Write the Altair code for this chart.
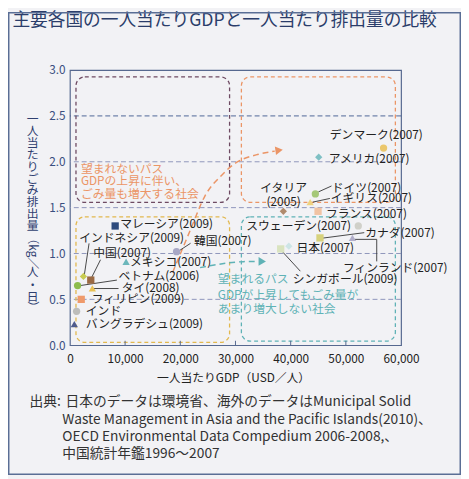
import altair as alt
import pandas as pd

# ---------------- data ----------------
countries = ["マレーシア", "インドネシア", "中国", "ベトナム", "タイ", "フィリピン", "インド",
             "バングラデシュ", "メキシコ", "韓国", "デンマーク", "アメリカ", "ドイツ", "イギリス",
             "イタリア", "フランス", "スウェーデン", "カナダ", "フィンランド", "日本", "シンガポール"]
gdp = [8200, 2450, 3780, 1390, 4060, 2050, 1210, 800, 10180, 19320, 56830, 45080, 44470,
       43530, 38670, 44960, 52250, 45310, 51190, 39670, 38190]
waste = [1.30, 0.75, 0.71, 0.65, 0.62, 0.50, 0.37, 0.23, 0.91, 1.02, 2.15, 2.05, 1.65,
         1.56, 1.46, 1.46, 1.30, 1.17, 1.17, 1.08, 1.05]
shapes = ["square", "diamond", "square", "circle", "triangle-up", "square", "circle",
          "triangle-up", "triangle-up", "circle", "circle", "diamond", "circle", "triangle-up",
          "diamond", "square", "circle", "square", "triangle-up", "diamond", "square"]
colors = ["#2d4a7c", "#c8cb52", "#9b6a44", "#8dbd4e", "#e9c154", "#ef9a6b", "#bdbdbb",
          "#4f5b8c", "#6cb7bb", "#a8a8c6", "#ebc76c", "#7fc0c4", "#a5c878", "#efd27f",
          "#b08a6c", "#f1c3a3", "#d0d0c9", "#d7d27c", "#b1adc9", "#cde5e6", "#d9e3bf"]

labels = ["マレーシア(2009)", "インドネシア(2009)", "中国(2007)", "ベトナム(2006)", "タイ(2008)",
          "フィリピン(2009)", "インド", "バングラデシュ(2009)", "メキシコ(2007)", "韓国(2007)",
          "デンマーク(2007)", "アメリカ(2007)", "ドイツ(2007)", "イギリス(2007)",
          "フランス(2007)", "スウェーデン(2007)", "カナダ(2007)", "フィンランド(2007)",
          "日本(2007)", "シンガポール(2009)"]
label_gdp = [9115, 1690, 4237, 8813, 9400, 3953, 2884, 2884, 10896, 22469, 47092, 46914,
             47448, 47270, 46380, 31958, 53501, 49460, 41040, 40380]
label_waste = [1.318, 1.165, 1.010, 0.753, 0.618, 0.504, 0.367, 0.225, 0.903, 1.136, 2.296,
               2.028, 1.718, 1.604, 1.430, 1.296, 1.218, 0.843, 1.064, 0.725]
italy_lines = ["イタリア", "(2005)"]
italy_gdp = [38724, 38724]
italy_waste = [1.718, 1.557]

x_ticks = [0, 10000, 20000, 30000, 40000, 50000, 60000]
y_ticks = [0.0, 0.5, 1.0, 1.5, 2.0, 2.5, 3.0]

title_text = "主要各国の一人当たりGDPと一人当たり排出量の比較"
y_title_top = "一人当たりごみ排出量"
y_title_unit = ["（kg／", "人", "・", "日", "）"]
x_title = "一人当たりGDP（USD／人）"
source_head = "出典:"
source_lines = ["日本のデータは環境省、海外のデータはMunicipal Solid",
                "Waste Management in Asia and the Pacific Islands(2010)、",
                "OECD Environmental Data Compedium 2006-2008,、",
                "中国統計年鑑1996～2007"]
bad_path_text = ["望まれないパス", "GDPの上昇に伴い、", "ごみ量も増大する社会"]
good_path_text = ["望まれるパス", "GDPが上昇してもごみ量が", "あまり増大しない社会"]

FONT = "Noto Sans CJK JP"
W, H = 337, 280
FRAME = "#56688f"
ORANGE = "#eb9566"
TEAL = "#5fb2b6"

ax_x = alt.Axis(values=x_ticks, format=",.0f", labelFontSize=12, labelColor="#222222",
                ticks=False, domain=False, grid=False, title=None, labelPadding=9,
                labelFlush=False)
ax_y = alt.Axis(values=y_ticks, format=".1f", labelFontSize=12, labelColor="#3a4f80",
                ticks=False, domain=False, grid=False, title=None, labelPadding=5)
xs = alt.Scale(domain=[0, 60000], nice=False, zero=False)
ys = alt.Scale(domain=[0, 3], nice=False, zero=False)


def X(f):
    return alt.X(f, type="quantitative", scale=xs, axis=ax_x)


def Y(f):
    return alt.Y(f, type="quantitative", scale=ys, axis=ax_y)


# grid lines
grid_df = pd.DataFrame({"waste": [0.5, 1.0, 1.5, 2.0, 2.5],
                        "c": ["#8e95bb", "#8e95bb", "#8e95bb", "#8e95bb", "#4d6496"]})
grid = alt.Chart(grid_df).mark_rule(strokeDash=[5, 3], strokeWidth=1).encode(
    y=Y("waste"), stroke=alt.Stroke("c:N", scale=None))

# inward x ticks
tick_df = pd.DataFrame({"gdp": x_ticks[1:-1]})
ticks = alt.Chart(tick_df).mark_rule(color=FRAME, strokeWidth=1).encode(
    x=X("gdp"), y=alt.value(H), y2=alt.value(H - 4.5))

# dashed rounded boxes
box_df = pd.DataFrame({
    "gdp": [1100, 31070, 1100, 31070],
    "gdp2": [28930, 58970, 28930, 58970],
    "waste": [2.925, 2.925, 1.40, 1.40],
    "waste2": [1.557, 1.557, 0.03, 0.045],
    "c": ["#6e4a62", ORANGE, "#e2b84e", TEAL]})
boxes = alt.Chart(box_df).mark_rect(cornerRadius=9, fillOpacity=0, strokeDash=[4, 3],
                                    strokeWidth=1.3).encode(
    x=X("gdp"), x2="gdp2", y=Y("waste"), y2="waste2", stroke=alt.Stroke("c:N", scale=None))

# arrows
arrow_df = pd.DataFrame({
    "gdp": [18605, 21810, 24480, 27510, 30180, 33740, 37120,
            23590, 26620, 31430, 34100],
    "waste": [0.793, 1.254, 1.629, 1.854, 1.993, 2.075, 2.116,
              0.846, 0.879, 0.911, 0.914],
    "g": ["o"] * 7 + ["t"] * 4,
    "c": [ORANGE] * 7 + [TEAL] * 4})
arrows = alt.Chart(arrow_df).mark_line(interpolate="monotone", strokeDash=[6, 4],
                                       strokeWidth=1.5).encode(
    x=X("gdp"), y=Y("waste"), detail="g:N", stroke=alt.Stroke("c:N", scale=None))
head_o = alt.Chart(pd.DataFrame({"gdp": [37900], "waste": [2.125]})).mark_point(
    shape="triangle-right", filled=True, size=75, opacity=1, color=ORANGE, angle=352).encode(
    x=X("gdp"), y=Y("waste"))
head_t = alt.Chart(pd.DataFrame({"gdp": [34850], "waste": [0.914]})).mark_point(
    shape="triangle-right", filled=True, size=75, opacity=1, color=TEAL).encode(
    x=X("gdp"), y=Y("waste"))

# path annotation texts
bad_df = pd.DataFrame({"t": bad_path_text, "gdp": [1990] * 3, "waste": [1.925, 1.793, 1.643]})
bad_txt = alt.Chart(bad_df).mark_text(align="left", baseline="middle", fontSize=12,
                                      color=ORANGE).encode(x=X("gdp"), y=Y("waste"), text="t:N")
good_df = pd.DataFrame({"t": good_path_text, "gdp": [26800] * 3, "waste": [0.718, 0.552, 0.391]})
good_txt = alt.Chart(good_df).mark_text(align="left", baseline="middle", fontSize=12,
                                        color=TEAL).encode(x=X("gdp"), y=Y("waste"), text="t:N")

# leader lines
lead_df = pd.DataFrame({
    "gdp": [45010, 44000, 45850, 51540, 55590, 38490, 2580, 3770, 1390, 4360, 19500],
    "gdp2": [47395, 47100, 53330, 55590, 55590, 41750, 3470, 5550, 8510, 8810, 21860],
    "waste": [1.671, 1.56, 1.168, 1.154, 1.154, 1.021, 0.753, 0.718, 0.646, 0.618, 1.018],
    "waste2": [1.736, 1.60, 1.227, 1.154, 0.914, 0.807, 1.11, 0.932, 0.71, 0.618, 1.111]})
leads = alt.Chart(lead_df).mark_rule(color="#333333", strokeWidth=0.9).encode(
    x=X("gdp"), x2="gdp2", y=Y("waste"), y2="waste2")

# points
pt_df = pd.DataFrame({"country": countries, "gdp": gdp, "waste": waste,
                      "shape": shapes, "color": colors})
points = alt.Chart(pt_df).mark_point(filled=True, size=55, opacity=1).encode(
    x=X("gdp"), y=Y("waste"),
    shape=alt.Shape("shape:N", scale=None),
    color=alt.Color("color:N", scale=None))

# country labels
lab_df = pd.DataFrame({"t": labels, "gdp": label_gdp, "waste": label_waste})
lab = alt.Chart(lab_df).mark_text(align="left", baseline="middle", fontSize=12,
                                  color="#222222").encode(x=X("gdp"), y=Y("waste"), text="t:N")
ita_df = pd.DataFrame({"t": italy_lines, "gdp": italy_gdp, "waste": italy_waste})
ita = alt.Chart(ita_df).mark_text(align="center", baseline="middle", fontSize=12,
                                  color="#222222").encode(x=X("gdp"), y=Y("waste"), text="t:N")


def T(s, x, y, size=12, color="#222222", align="left", angle=0):
    return alt.Chart(pd.DataFrame({"t": [s]})).mark_text(
        align=align, baseline="middle", fontSize=size, color=color, angle=angle).encode(
        x=alt.value(x), y=alt.value(y), text="t:N")


NAVY = "#2b3d6a"
YT = "#2f4070"
SRC = "#333333"
outer = [T(title_text, -58.5, -50, size=18, color=NAVY)]
# vertical (tategaki) y-axis title
for i, ch in enumerate(y_title_top):
    outer.append(T(ch, -38, 49.7 + i * 12.15, color=YT, align="center"))
unit_y = [184, 206, 219, 231, 241]
unit_angle = [90, 0, 0, 0, 90]
for ch, yy, an in zip(y_title_unit, unit_y, unit_angle):
    outer.append(T(ch, -38, yy, color=YT, align="center", angle=an))
outer += [
    T(x_title, 166.5, 313, align="center"),
    T(source_head, -41, 338, size=14, color=SRC),
    T(source_lines[0], -4.5, 338, size=14, color=SRC),
    T(source_lines[1], -7.7, 355.7, size=14, color=SRC),
    T(source_lines[2], -7.7, 373, size=14, color=SRC),
    T(source_lines[3], -7.7, 391, size=14, color=SRC),
]

border = alt.Chart(pd.DataFrame({"a": [0]})).mark_rect(
    fillOpacity=0, stroke="#5a6e95", strokeWidth=1.5).encode(
    x=alt.value(-62.25), x2=alt.value(397.25), y=alt.value(-58.25), y2=alt.value(411.25))

chart = alt.layer(
    grid, boxes, ticks, arrows, head_o, head_t, bad_txt, good_txt, leads, points, lab, ita,
    *outer, border
).properties(
    width=W, height=H,
    autosize=alt.AutoSizeParams(type="none"),
    padding={"left": 63, "top": 59, "right": 61, "bottom": 132},
).configure(
    font=FONT, background="#f2f2f5"
).configure_view(stroke=FRAME, strokeWidth=1.2)

chart.save("out.html", embed_options={"renderer": "svg", "actions": False})
